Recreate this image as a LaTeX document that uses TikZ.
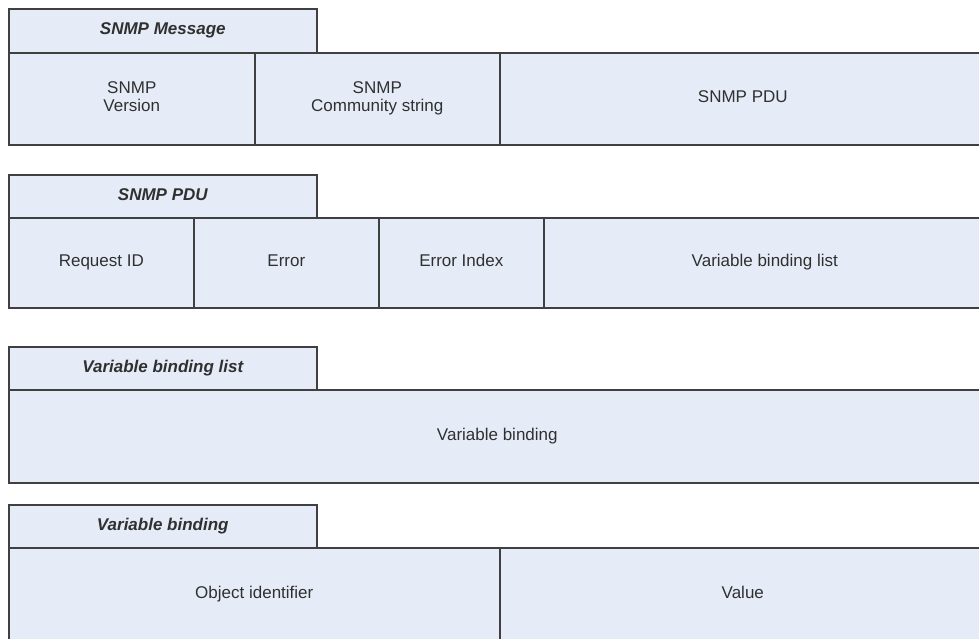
\documentclass[tikz,border=0pt]{standalone}
\usepackage{fontspec}
\setmainfont{Liberation Sans}
\definecolor{cellfill}{HTML}{E6ECF7}
\definecolor{cellline}{HTML}{404040}
\definecolor{celltext}{HTML}{303030}
\begin{document}
\begin{tikzpicture}[x=1pt,y=-1pt,
  cell/.style={draw=cellline, fill=cellfill, line width=1.6pt, rectangle,
    anchor=north west, inner sep=0pt, text=celltext,
    font=\fontsize{17}{18.7}\selectfont, align=center},
  ttl/.style={cell, font=\fontsize{17}{18.7}\selectfont\bfseries\itshape}]
\useasboundingbox (0,0) rectangle (979,639);
% Group 1: SNMP Message
\node[ttl, minimum width=308pt, minimum height=44pt] (t1) at (8,8) {\strut SNMP Message};
\node[cell, minimum width=246pt, minimum height=92pt] (m1) at (8,52) {\strut SNMP\\\strut Version};
\node[cell, minimum width=245pt, minimum height=92pt] (m2) at (254,52) {\strut SNMP\\\strut Community string};
\node[cell, minimum width=486pt, minimum height=92pt] (m3) at (499,52) {\strut SNMP PDU};
% Group 2: SNMP PDU
\node[ttl, minimum width=308pt, minimum height=43pt] (t2) at (8,174) {\strut SNMP PDU};
\node[cell, minimum width=185pt, minimum height=90pt] (p1) at (8,217) {\strut Request ID};
\node[cell, minimum width=185pt, minimum height=90pt] (p2) at (193,217) {\strut Error};
\node[cell, minimum width=165pt, minimum height=90pt] (p3) at (378,217) {\strut Error Index};
\node[cell, minimum width=442pt, minimum height=90pt] (p4) at (543,217) {\strut Variable binding list};
% Group 3: Variable binding list
\node[ttl, minimum width=308pt, minimum height=43pt] (t3) at (8,346) {\strut Variable binding list};
\node[cell, minimum width=977pt, minimum height=93pt] (l1) at (8,389) {\strut Variable binding};
% Group 4: Variable binding
\node[ttl, minimum width=308pt, minimum height=43pt] (t4) at (8,504) {\strut Variable binding};
\node[cell, minimum width=491pt, minimum height=94pt] (b1) at (8,547) {\strut Object identifier};
\node[cell, minimum width=486pt, minimum height=94pt] (b2) at (499,547) {\strut Value};
\end{tikzpicture}
\end{document}
